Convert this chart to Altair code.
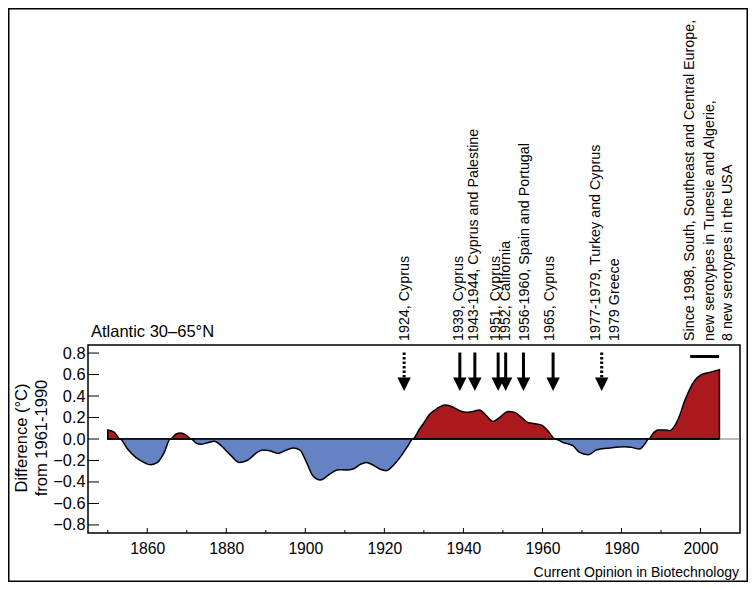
import altair as alt
import pandas as pd

# ---- data ----
years = [1850.0, 1851.7, 1853.1, 1855.0, 1857.1, 1858.8, 1860.9, 1862.6, 1864.3, 1865.8,
         1867.3, 1868.5, 1869.8, 1871.1, 1872.3, 1873.6, 1875.3, 1877.0, 1878.7, 1881.2,
         1883.3, 1885.0, 1886.2, 1887.6, 1889.3, 1891.0, 1893.1, 1894.8, 1896.9, 1898.6,
         1900.3, 1901.9, 1903.8, 1906.2, 1908.3, 1910.4, 1912.1, 1913.8, 1915.4, 1917.1,
         1918.8, 1920.5, 1922.2, 1924.3, 1926.0, 1927.2, 1928.9, 1929.8, 1931.5, 1933.2,
         1935.3, 1937.0, 1939.1, 1940.8, 1942.4, 1944.1, 1945.8, 1947.5, 1949.2, 1951.3,
         1953.0, 1954.7, 1956.3, 1958.5, 1959.7, 1961.4, 1963.2, 1965.2, 1967.7, 1969.4,
         1971.5, 1972.4, 1973.6, 1977.0, 1980.8, 1982.5, 1984.6, 1985.9, 1986.9, 1988.0,
         1989.2, 1990.9, 1992.2, 1993.5, 1994.7, 1996.0, 1997.3, 1998.5, 2000.2, 2002.3,
         2004.8]
diffs = [0.084, 0.062, 0.0, -0.093, -0.171, -0.211, -0.239, -0.218, -0.125, 0.0,
         0.047, 0.056, 0.037, 0.0, -0.037, -0.05, -0.034, -0.022, -0.062, -0.155,
         -0.218, -0.205, -0.175, -0.13, -0.102, -0.109, -0.134, -0.109, -0.084, -0.102,
         -0.218, -0.341, -0.381, -0.326, -0.286, -0.288, -0.279, -0.239, -0.218, -0.242,
         -0.279, -0.295, -0.248, -0.155, -0.062, 0.0, 0.093, 0.14, 0.233, 0.279,
         0.316, 0.303, 0.263, 0.248, 0.257, 0.27, 0.217, 0.164, 0.201, 0.257,
         0.248, 0.201, 0.155, 0.14, 0.13, 0.077, 0.0, -0.032, -0.062, -0.125,
         -0.146, -0.134, -0.102, -0.084, -0.072, -0.078, -0.093, -0.047, 0.0, 0.052,
         0.084, 0.084, 0.077, 0.124, 0.217, 0.356, 0.465, 0.542, 0.598, 0.62,
         0.645]

arrow_years = [1925.0, 1939.1, 1942.9, 1948.8, 1950.7, 1955.2, 1962.7, 1975.0]
arrow_style = ["dotted", "solid", "solid", "solid", "solid", "solid", "solid", "dotted"]

note_years = [1925.1, 1939.0, 1942.8, 1948.3, 1950.9, 1955.5, 1961.8, 1973.6, 1978.3,
              1997.3, 2002.3, 2006.9]
note_texts = ["1924, Cyprus", "1939, Cyprus", "1943-1944, Cyprus and Palestine",
              "1951, Cyprus", "1952, California", "1956-1960, Spain and Portugal",
              "1965, Cyprus", "1977-1979, Turkey and Cyprus", "1979 Greece",
              "Since 1998, South, Southeast and Central Europe,",
              "new serotypes in Tunesie and Algerie,", "8 new serotypes in the USA"]

bar_years = [1997.4, 2004.7]
bar_value = [0.768]

x_ticks_major = [1860, 1880, 1900, 1920, 1940, 1960, 1980, 2000]
x_ticks_minor = [1850, 1870, 1890, 1910, 1930, 1950, 1970, 1990]
y_ticks = [-0.8, -0.6, -0.4, -0.2, 0.0, 0.2, 0.4, 0.6, 0.8]

# ---- tables ----
df = pd.DataFrame({"year": years, "diff": diffs})
arrows = pd.DataFrame({"year": arrow_years, "style": arrow_style})
notes = pd.DataFrame({"year": note_years, "text": note_texts})
bar = pd.DataFrame({"x1": [bar_years[0]], "x2": [bar_years[1]], "v": bar_value})
xmaj = pd.DataFrame({"year": x_ticks_major})
xmin = pd.DataFrame({"year": x_ticks_minor})
yt = pd.DataFrame({"v": y_ticks})

W, H = 652, 188
FONT = "Liberation Sans"
RED = "#AA191D"
BLUE = "#6482C4"

xs = alt.Scale(domain=[1845, 2010], nice=False, zero=False)
ys = alt.Scale(domain=[-0.875, 0.875], nice=False, zero=False)

x_axis = alt.Axis(values=x_ticks_major, format="d", ticks=False, tickSize=0, domain=False,
                  grid=False, labelFontSize=15.7, labelPadding=8, labelColor="black",
                  title=None, labelFont=FONT, labelOverlap=False)
y_axis = alt.Axis(values=y_ticks, format=".1f", ticks=False, tickSize=0, domain=False,
                  grid=False, labelFontSize=16.3, labelPadding=3, labelColor="black",
                  title=None, labelFont=FONT, labelOverlap=False,
                  labelExpr="replace(datum.label, '-', '\u2212')")


def X(field):
    return alt.X(field, scale=xs, axis=x_axis)


def Y(field):
    return alt.Y(field, scale=ys, axis=y_axis)


def XD(v):
    return alt.X(datum=v, scale=xs, axis=x_axis)


def YD(v):
    return alt.Y(datum=v, scale=ys, axis=y_axis)


base = alt.Chart(df).transform_calculate(
    pos="max(datum.diff, 0)", neg="min(datum.diff, 0)")

pos_area = base.mark_area(color=RED, stroke="black", strokeWidth=1.5,
                          interpolate="monotone", opacity=1).encode(
    x=X("year:Q"), y=Y("pos:Q"), y2=alt.Y2(datum=0))

neg_area = base.mark_area(color=BLUE, stroke="black", strokeWidth=1.5,
                          interpolate="monotone", opacity=1).encode(
    x=X("year:Q"), y=Y("neg:Q"), y2=alt.Y2(datum=0))

zero_line = alt.Chart(pd.DataFrame({"v": [0.0]})).mark_rule(color="#777", strokeWidth=1).encode(
    y=Y("v:Q"), x=XD(2004.8), x2=alt.X2(datum=2010))

shaft_solid = alt.Chart(arrows).transform_filter("datum.style == 'solid'").mark_rule(
    color="black", strokeWidth=3).encode(
    x=X("year:Q"), y=YD(0.805), y2=alt.Y2(datum=0.55))

shaft_dot = alt.Chart(arrows).transform_filter("datum.style == 'dotted'").mark_rule(
    color="black", strokeWidth=3, strokeDash=[2.5, 2]).encode(
    x=X("year:Q"), y=YD(0.805), y2=alt.Y2(datum=0.55))

heads = alt.Chart(arrows).mark_point(shape="M-1,-1L1,-1L0,1Z", size=180, filled=True,
                                     color="black", opacity=1).encode(
    x=X("year:Q"), y=YD(0.51))

bar_mark = alt.Chart(bar).mark_rule(color="black", strokeWidth=3).encode(
    x=X("x1:Q"), x2="x2:Q", y=Y("v:Q"))

note_marks = alt.Chart(notes).mark_text(angle=270, align="left", baseline="middle",
                                        fontSize=14.3, font=FONT, color="black").encode(
    x=X("year:Q"), y=alt.value(-4), text="text:N")

xtick_major = alt.Chart(xmaj).mark_rule(color="black", strokeWidth=1).encode(
    x=X("year:Q"), y=alt.value(H), y2=alt.value(H - 5))
xtick_minor = alt.Chart(xmin).mark_rule(color="black", strokeWidth=1).encode(
    x=X("year:Q"), y=alt.value(H), y2=alt.value(H - 3))
ytick = alt.Chart(yt).mark_rule(color="black", strokeWidth=1).encode(
    y=Y("v:Q"), x=alt.value(0), x2=alt.value(11))

labels = pd.DataFrame({"t": ["Atlantic 30\u201365\u00b0N"]})
title_mark = alt.Chart(labels).mark_text(align="left", baseline="middle", fontSize=16.5,
                                         font=FONT, color="black").encode(
    x=alt.value(3), y=alt.value(-13), text="t:N")

yt1 = alt.Chart(pd.DataFrame({"t": ["Difference (\u00b0C)"]})).mark_text(
    angle=270, align="center", baseline="middle", fontSize=16.5, font=FONT, color="black").encode(
    x=alt.value(-66.5), y=alt.value(93), text="t:N")
yt2 = alt.Chart(pd.DataFrame({"t": ["from 1961-1990"]})).mark_text(
    angle=270, align="center", baseline="middle", fontSize=16.5, font=FONT, color="black").encode(
    x=alt.value(-46.5), y=alt.value(93), text="t:N")

credit = alt.Chart(pd.DataFrame({"t": ["Current Opinion in Biotechnology"]})).mark_text(
    align="right", baseline="middle", fontSize=14, font=FONT, color="black").encode(
    x=alt.value(651), y=alt.value(228), text="t:N")

border = alt.Chart(pd.DataFrame({"a": [0]})).mark_rect(fill="transparent", stroke="black",
                                                       strokeWidth=1.5).encode(
    x=alt.value(-79.25), x2=alt.value(W + 7.25), y=alt.value(-336.25), y2=alt.value(H + 48.25))

chart = alt.layer(
    pos_area, neg_area, zero_line, xtick_major, xtick_minor, ytick,
    shaft_solid, shaft_dot, heads, bar_mark, note_marks, title_mark, yt1, yt2, credit, border
).properties(
    width=W, height=H,
    autosize=alt.AutoSizeParams(type="none"),
    padding={"left": 80, "top": 337, "right": 8, "bottom": 49},
).configure(
    font=FONT,
    view=alt.ViewConfig(stroke="black", strokeWidth=1.5),
)

chart.save("out.html", embed_options={"renderer": "svg", "actions": False})
